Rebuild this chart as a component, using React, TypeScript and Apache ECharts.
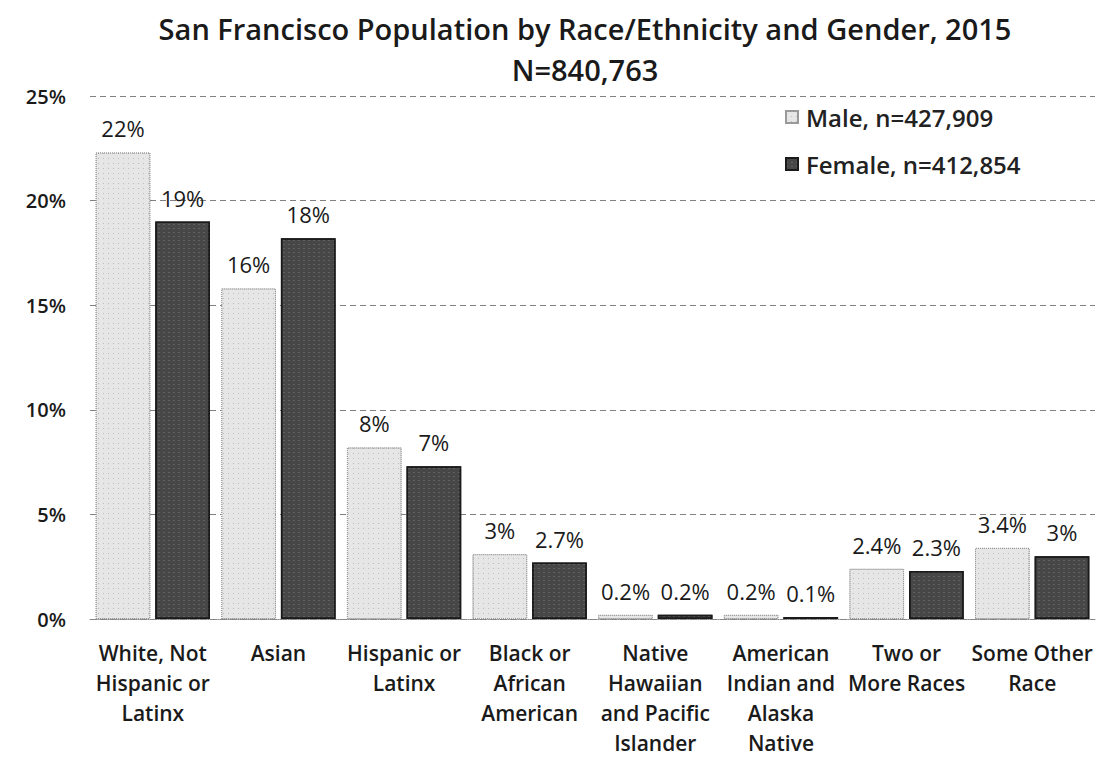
import React, { useEffect, useRef } from "react";
import * as echarts from "echarts";

const categories = [
  "White, Not\nHispanic or\nLatinx",
  "Asian",
  "Hispanic or\nLatinx",
  "Black or\nAfrican\nAmerican",
  "Native\nHawaiian\nand Pacific\nIslander",
  "American\nIndian and\nAlaska\nNative",
  "Two or\nMore Races",
  "Some Other\nRace",
];
const maleValues = [22.3, 15.8, 8.2, 3.1, 0.2, 0.2, 2.4, 3.4];
const femaleValues = [19.0, 18.2, 7.3, 2.7, 0.2, 0.1, 2.3, 3.0];
const maleLabels = ["22%", "16%", "8%", "3%", "0.2%", "0.2%", "2.4%", "3.4%"];
const femaleLabels = ["19%", "18%", "7%", "2.7%", "0.2%", "0.1%", "2.3%", "3%"];
const yTicks = [0, 5, 10, 15, 20, 25];

const FONT = "'Open Sans', Lato, sans-serif";

export default function App() {
  const ref = useRef<HTMLDivElement>(null);
  useEffect(() => {
    const chart = echarts.init(ref.current!, null, { renderer: "svg" });
    chart.setOption({
      animation: false,
      backgroundColor: "#ffffff",
      title: {
        text: "San Francisco Population by Race/Ethnicity and Gender, 2015\nN=840,763",
        left: 572,
        textAlign: "center",
        top: -5,
        textStyle: {
          fontFamily: FONT,
          fontSize: 29,
          fontWeight: 600,
          color: "#1a1a1a",
          lineHeight: 41,
        },
      },
      legend: {
        orient: "vertical",
        left: 772,
        top: 89,
        itemWidth: 12,
        itemHeight: 12,
        itemGap: 17,
        icon: "rect",
        textStyle: {
          fontFamily: FONT,
          fontSize: 24,
          fontWeight: 600,
          color: "#222",
          lineHeight: 30,
          padding: [0, 0, 0, 3],
        },
        data: ["Male, n=427,909", "Female, n=412,854"],
      },
      grid: { left: 82, right: 2, top: 88, bottom: 140, outerBoundsMode: "none" },
      xAxis: {
        type: "category",
        data: categories,
        axisLine: { show: true, lineStyle: { color: "#888", type: "dotted" } },
        axisTick: { show: false },
        axisLabel: {
          interval: 0,
          fontFamily: FONT,
          fontSize: 21,
          fontWeight: 600,
          color: "#1a1a1a",
          lineHeight: 30,
          margin: 19,
        },
      },
      yAxis: {
        type: "value",
        min: 0,
        max: 25,
        interval: 5,
        axisLine: { show: false },
        axisTick: { show: false },
        splitLine: { lineStyle: { color: "#808080", type: [6, 4], width: 1 } },
        axisLabel: {
          fontFamily: FONT,
          fontSize: 20,
          fontWeight: 600,
          color: "#1a1a1a",
          margin: 24,
          formatter: (v: number) => (yTicks.includes(v) ? v + "%" : ""),
        },
      },
      series: [
        {
          name: "Male, n=427,909",
          type: "bar",
          data: maleValues,
          barGap: "9%",
          barCategoryGap: "9%",
          itemStyle: {
            color: "#e6e6e6",
            borderColor: "#9a9a9a",
            borderWidth: 1,
            borderType: "dotted",
            decal: {
              symbol: "rect",
              symbolSize: 1,
              color: "rgba(0,0,0,0.18)",
              dashArrayX: [1, 4],
              dashArrayY: [1, 4],
            },
          },
          label: {
            show: true,
            position: "top",
            distance: 13,
            fontFamily: FONT,
            fontSize: 22,
            color: "#1a1a1a",
            formatter: (p: any) => maleLabels[p.dataIndex],
          },
        },
        {
          name: "Female, n=412,854",
          type: "bar",
          data: femaleValues,
          itemStyle: {
            color: "#474747",
            borderColor: "#1a1a1a",
            borderWidth: 1.5,
            decal: {
              symbol: "rect",
              symbolSize: 1,
              color: "rgba(255,255,255,0.14)",
              dashArrayX: [2, 3],
              dashArrayY: [1, 3],
            },
          },
          label: {
            show: true,
            position: "top",
            distance: 13,
            fontFamily: FONT,
            fontSize: 22,
            color: "#1a1a1a",
            formatter: (p: any) => femaleLabels[p.dataIndex],
          },
        },
      ],
    });
    return () => chart.dispose();
  }, []);
  return <div ref={ref} style={{ width: 1089, height: 751, marginBottom: -8 }} />;
}
